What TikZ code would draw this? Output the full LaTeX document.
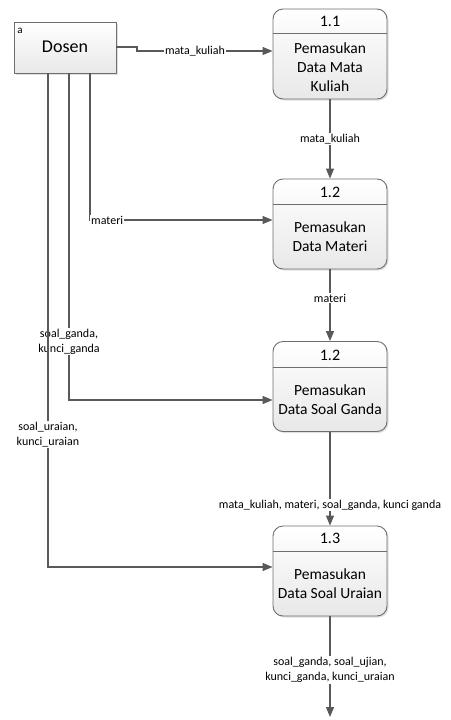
\documentclass[tikz,border=0pt]{standalone}
\usepackage{fontspec}
\setmainfont{Carlito}
\usetikzlibrary{arrows.meta,shadows}
\definecolor{linegray}{HTML}{595959}
\definecolor{boxedge}{HTML}{6E6E6E}
\tikzset{
  flow/.style={draw=linegray, line width=1.2pt, -{Triangle[length=10pt,width=8pt]}},
  plain/.style={draw=linegray, line width=1.2pt},
  proc/.style={draw=boxedge, line width=0.9pt, rounded corners=10pt,
    top color=white, bottom color=black!9,
    drop shadow={shadow xshift=1.5pt, shadow yshift=-1.5pt, opacity=0.25},
    minimum width=114pt, minimum height=90pt, inner sep=0pt},
  ext/.style={draw=boxedge, line width=0.9pt,
    top color=white, bottom color=black!9,
    drop shadow={shadow xshift=1.5pt, shadow yshift=-1.5pt, opacity=0.25},
    minimum width=102pt, minimum height=51pt, inner sep=0pt},
  ptext/.style={align=center, font=\fontsize{15.5}{19}\selectfont, inner sep=0pt},
  htext/.style={font=\fontsize{16}{19}\selectfont, inner sep=0pt},
  lbl/.style={align=center, font=\fontsize{12}{15}\selectfont, fill=white, inner sep=1pt},
}
\begin{document}
\begin{tikzpicture}[x=1pt, y=-1pt]
\useasboundingbox (0,0) rectangle (450,720);

% external entity
\node[ext] (dosen) at (65,47.5) {};
\node[font=\fontsize{11}{13}\selectfont, inner sep=0pt] (dosenid) at (20,31) {a};
\node[font=\fontsize{18}{21}\selectfont, inner sep=0pt] (dosenname) at (65,47) {Dosen};

% processes
\node[proc] (p11) at (330,54) {};
\draw[boxedge, line width=0.9pt] (p11.west |- 0,33) -- (p11.east |- 0,33);
\node[htext] (h11) at (330,21) {1.1};
\node[ptext] (t11) at (330,67) {Pemasukan\\Data Mata\\Kuliah};

\node[proc] (p12) at (330,224) {};
\draw[boxedge, line width=0.9pt] (p12.west |- 0,204) -- (p12.east |- 0,204);
\node[htext] (h12) at (330,192) {1.2};
\node[ptext] (t12) at (330,237) {Pemasukan\\Data Materi};

\node[proc] (p12b) at (330,386.5) {};
\draw[boxedge, line width=0.9pt] (p12b.west |- 0,367) -- (p12b.east |- 0,367);
\node[htext] (h12b) at (330,355) {1.2};
\node[ptext] (t12b) at (330,400) {Pemasukan\\Data Soal Ganda};

\node[proc] (p13) at (330,571) {};
\draw[boxedge, line width=0.9pt] (p13.west |- 0,551) -- (p13.east |- 0,551);
\node[htext] (h13) at (330,538) {1.3};
\node[ptext] (t13) at (330,584) {Pemasukan\\Data Soal Uraian};

\coordinate (out) at (330,717);

% flows from Dosen
\draw[flow] ([yshift=0.5pt]dosen.east) -- (137,47) -- (137,51)
  -- ([yshift=3pt]p11.west);
\node[lbl] (l1) at (195,51) {mata\_kuliah};

\draw[flow] ([xshift=25pt]dosen.south) |- ([yshift=4pt]p12.west);
\node[lbl, anchor=west] (l2) at (90,220) {materi};

\draw[flow] ([xshift=4pt]dosen.south) |- ([yshift=-13.5pt]p12b.west);
\node[lbl] (l3) at (69,341.5) {soal\_ganda,\\kunci\_ganda};

\draw[flow] ([xshift=-17pt]dosen.south) |- ([yshift=4pt]p13.west);
\node[lbl] (l4) at (48,434.5) {soal\_uraian,\\kunci\_uraian};

% flows between processes
\draw[flow] (p11.south) -- (p12.north);
\node[lbl] (l5) at (330,139) {mata\_kuliah};

\draw[flow] (p12.south) -- (p12b.north);
\node[lbl] (l6) at (330,298) {materi};

\draw[flow] (p12b.south) -- (p13.north);
\node[lbl] (l7) at (330,505) {mata\_kuliah, materi, soal\_ganda, kunci ganda};

\draw[flow] (p13.south) -- (out);
\node[lbl] (l8) at (330,670) {soal\_ganda, soal\_ujian,\\kunci\_ganda, kunci\_uraian};
\end{tikzpicture}
\end{document}
